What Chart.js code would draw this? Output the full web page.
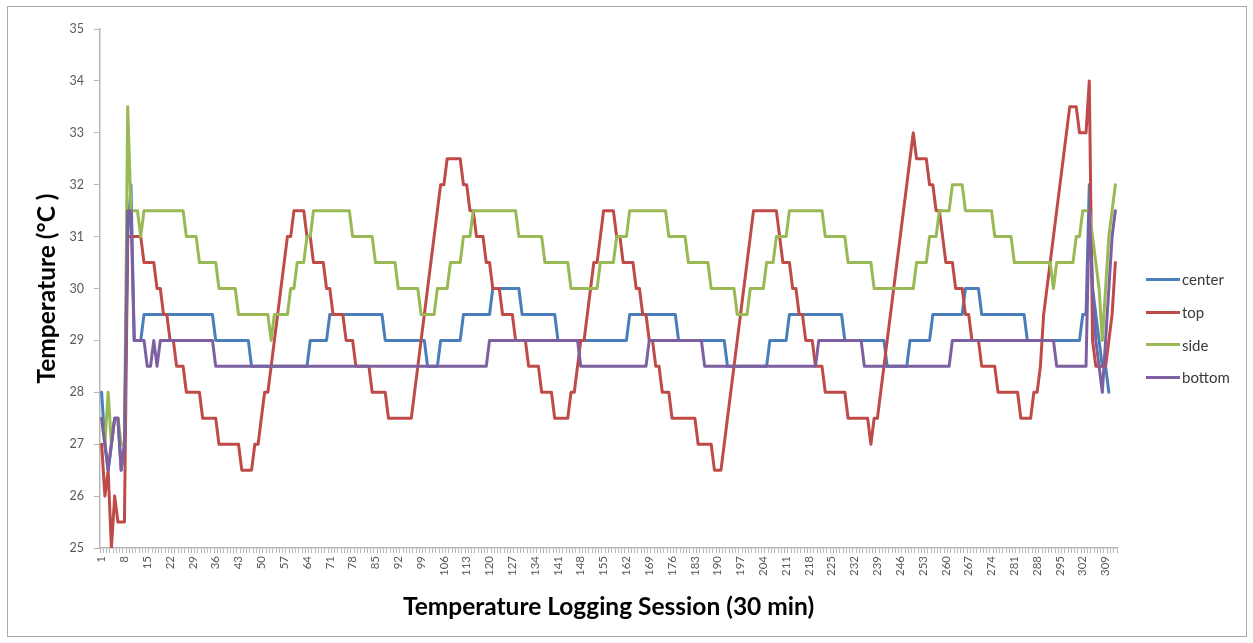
<!DOCTYPE html>
<html lang="en">
<head>
<meta charset="UTF-8">
<title>Temperature Logging Session</title>
<script src="https://cdn.jsdelivr.net/npm/chart.js"></script>
<style>
  html, body { margin: 0; padding: 0; background: #fff; }
  #wrap { position: relative; width: 1253px; height: 643px; }
  #frame {
    position: absolute; left: 7px; top: 6px; width: 1238px; height: 629px;
    border: 1px solid #a9a9a9; pointer-events: none;
  }
  #legend {
    position: absolute; left: 1146px; top: 263px;
    font-family: Lato, sans-serif; font-size: 15px; color: #3a3a3a;
  }
  .item { height: 32.7px; display: flex; align-items: center; }
  .swatch { width: 34px; height: 3px; margin-right: 2px; }
</style>
</head>
<body>
<div id="wrap">
  <canvas id="chart"></canvas>
  <div id="frame"></div>
  <div id="legend"></div>
</div>
<script>
// one reading every 30 min, sessions 1..312
const sessions = Array.from({ length: 312 }, (_, i) => String(i + 1));

const center = [
  28, 27, 26.5, 27, 27.5, 27.5, 26.5, 27, 31, 32,
  29, 29, 29, 29.5, 29.5, 29.5, 29.5, 29.5, 29.5, 29.5,
  29.5, 29.5, 29.5, 29.5, 29.5, 29.5, 29.5, 29.5, 29.5, 29.5,
  29.5, 29.5, 29.5, 29.5, 29.5, 29, 29, 29, 29, 29,
  29, 29, 29, 29, 29, 29, 28.5, 28.5, 28.5, 28.5,
  28.5, 28.5, 28.5, 28.5, 28.5, 28.5, 28.5, 28.5, 28.5, 28.5,
  28.5, 28.5, 28.5, 28.5, 29, 29, 29, 29, 29, 29,
  29.5, 29.5, 29.5, 29.5, 29.5, 29.5, 29.5, 29.5, 29.5, 29.5,
  29.5, 29.5, 29.5, 29.5, 29.5, 29.5, 29.5, 29, 29, 29,
  29, 29, 29, 29, 29, 29, 29, 29, 29, 29,
  28.5, 28.5, 28.5, 28.5, 29, 29, 29, 29, 29, 29,
  29, 29.5, 29.5, 29.5, 29.5, 29.5, 29.5, 29.5, 29.5, 29.5,
  30, 30, 30, 30, 30, 30, 30, 30, 30, 29.5,
  29.5, 29.5, 29.5, 29.5, 29.5, 29.5, 29.5, 29.5, 29.5, 29.5,
  29, 29, 29, 29, 29, 29, 29, 29, 29, 29,
  29, 29, 29, 29, 29, 29, 29, 29, 29, 29,
  29, 29, 29.5, 29.5, 29.5, 29.5, 29.5, 29.5, 29.5, 29.5,
  29.5, 29.5, 29.5, 29.5, 29.5, 29.5, 29.5, 29, 29, 29,
  29, 29, 29, 29, 29, 29, 29, 29, 29, 29,
  29, 29, 28.5, 28.5, 28.5, 28.5, 28.5, 28.5, 28.5, 28.5,
  28.5, 28.5, 28.5, 28.5, 28.5, 29, 29, 29, 29, 29,
  29, 29.5, 29.5, 29.5, 29.5, 29.5, 29.5, 29.5, 29.5, 29.5,
  29.5, 29.5, 29.5, 29.5, 29.5, 29.5, 29.5, 29.5, 29, 29,
  29, 29, 29, 29, 29, 29, 29, 29, 29, 29,
  29, 28.5, 28.5, 28.5, 28.5, 28.5, 28.5, 28.5, 29, 29,
  29, 29, 29, 29, 29, 29.5, 29.5, 29.5, 29.5, 29.5,
  29.5, 29.5, 29.5, 29.5, 29.5, 30, 30, 30, 30, 30,
  29.5, 29.5, 29.5, 29.5, 29.5, 29.5, 29.5, 29.5, 29.5, 29.5,
  29.5, 29.5, 29.5, 29.5, 29, 29, 29, 29, 29, 29,
  29, 29, 29, 29, 29, 29, 29, 29, 29, 29,
  29, 29.5, 29.5, 32, 30, 29.5, 29, 28.5, 28.5, 28
];

const top_ = [
  27, 26, 26.5, 25, 26, 25.5, 25.5, 25.5, 31, 31,
  31, 31, 31, 30.5, 30.5, 30.5, 30.5, 30, 30, 29.5,
  29.5, 29, 29, 28.5, 28.5, 28.5, 28, 28, 28, 28,
  28, 27.5, 27.5, 27.5, 27.5, 27.5, 27, 27, 27, 27,
  27, 27, 27, 26.5, 26.5, 26.5, 26.5, 27, 27, 27.5,
  28, 28, 28.5, 29, 29.5, 30, 30.5, 31, 31, 31.5,
  31.5, 31.5, 31.5, 31, 31, 30.5, 30.5, 30.5, 30.5, 30,
  30, 29.5, 29.5, 29.5, 29.5, 29, 29, 29, 28.5, 28.5,
  28.5, 28.5, 28.5, 28, 28, 28, 28, 28, 27.5, 27.5,
  27.5, 27.5, 27.5, 27.5, 27.5, 27.5, 28, 28.5, 29, 29.5,
  30, 30.5, 31, 31.5, 32, 32, 32.5, 32.5, 32.5, 32.5,
  32.5, 32, 32, 31.5, 31.5, 31, 31, 31, 30.5, 30.5,
  30, 30, 30, 29.5, 29.5, 29.5, 29.5, 29, 29, 29,
  29, 28.5, 28.5, 28.5, 28.5, 28, 28, 28, 28, 27.5,
  27.5, 27.5, 27.5, 27.5, 28, 28, 28.5, 29, 29, 29.5,
  30, 30.5, 30.5, 31, 31.5, 31.5, 31.5, 31.5, 31, 31,
  30.5, 30.5, 30.5, 30.5, 30, 30, 29.5, 29.5, 29, 29,
  28.5, 28.5, 28, 28, 28, 27.5, 27.5, 27.5, 27.5, 27.5,
  27.5, 27.5, 27.5, 27, 27, 27, 27, 27, 26.5, 26.5,
  26.5, 27, 27.5, 28, 28.5, 29, 29.5, 30, 30.5, 31,
  31.5, 31.5, 31.5, 31.5, 31.5, 31.5, 31.5, 31.5, 31, 30.5,
  30.5, 30.5, 30, 30, 29.5, 29.5, 29, 29, 29, 28.5,
  28.5, 28.5, 28, 28, 28, 28, 28, 28, 28, 27.5,
  27.5, 27.5, 27.5, 27.5, 27.5, 27.5, 27, 27.5, 27.5, 28,
  28.5, 29, 29.5, 30, 30.5, 31, 31.5, 32, 32.5, 33,
  32.5, 32.5, 32.5, 32.5, 32, 32, 31.5, 31.5, 31, 30.5,
  30.5, 30.5, 30, 30, 30, 29.5, 29.5, 29, 29, 29,
  28.5, 28.5, 28.5, 28.5, 28.5, 28, 28, 28, 28, 28,
  28, 28, 27.5, 27.5, 27.5, 27.5, 28, 28, 28.5, 29.5,
  30, 30.5, 31, 31.5, 32, 32.5, 33, 33.5, 33.5, 33.5,
  33, 33, 33, 34, 29, 28.5, 28.5, 28.5, 28.5, 29,
  29.5, 30.5
];

const side = [
  27.5, 27, 28, 27, 27.5, 27.5, 27, 27, 33.5, 31.5,
  31.5, 31.5, 31, 31.5, 31.5, 31.5, 31.5, 31.5, 31.5, 31.5,
  31.5, 31.5, 31.5, 31.5, 31.5, 31.5, 31, 31, 31, 31,
  30.5, 30.5, 30.5, 30.5, 30.5, 30.5, 30, 30, 30, 30,
  30, 30, 29.5, 29.5, 29.5, 29.5, 29.5, 29.5, 29.5, 29.5,
  29.5, 29.5, 29, 29.5, 29.5, 29.5, 29.5, 29.5, 30, 30,
  30.5, 30.5, 30.5, 31, 31, 31.5, 31.5, 31.5, 31.5, 31.5,
  31.5, 31.5, 31.5, 31.5, 31.5, 31.5, 31.5, 31, 31, 31,
  31, 31, 31, 31, 30.5, 30.5, 30.5, 30.5, 30.5, 30.5,
  30.5, 30, 30, 30, 30, 30, 30, 30, 29.5, 29.5,
  29.5, 29.5, 29.5, 30, 30, 30, 30, 30.5, 30.5, 30.5,
  30.5, 31, 31, 31, 31.5, 31.5, 31.5, 31.5, 31.5, 31.5,
  31.5, 31.5, 31.5, 31.5, 31.5, 31.5, 31.5, 31.5, 31, 31,
  31, 31, 31, 31, 31, 31, 30.5, 30.5, 30.5, 30.5,
  30.5, 30.5, 30.5, 30.5, 30, 30, 30, 30, 30, 30,
  30, 30, 30, 30.5, 30.5, 30.5, 30.5, 30.5, 31, 31,
  31, 31, 31.5, 31.5, 31.5, 31.5, 31.5, 31.5, 31.5, 31.5,
  31.5, 31.5, 31.5, 31.5, 31, 31, 31, 31, 31, 31,
  30.5, 30.5, 30.5, 30.5, 30.5, 30.5, 30.5, 30, 30, 30,
  30, 30, 30, 30, 30, 29.5, 29.5, 29.5, 29.5, 30,
  30, 30, 30, 30, 30.5, 30.5, 30.5, 31, 31, 31,
  31, 31.5, 31.5, 31.5, 31.5, 31.5, 31.5, 31.5, 31.5, 31.5,
  31.5, 31.5, 31, 31, 31, 31, 31, 31, 31, 30.5,
  30.5, 30.5, 30.5, 30.5, 30.5, 30.5, 30.5, 30, 30, 30,
  30, 30, 30, 30, 30, 30, 30, 30, 30, 30,
  30.5, 30.5, 30.5, 30.5, 31, 31, 31, 31.5, 31.5, 31.5,
  31.5, 32, 32, 32, 32, 31.5, 31.5, 31.5, 31.5, 31.5,
  31.5, 31.5, 31.5, 31.5, 31, 31, 31, 31, 31, 31,
  30.5, 30.5, 30.5, 30.5, 30.5, 30.5, 30.5, 30.5, 30.5, 30.5,
  30.5, 30.5, 30, 30.5, 30.5, 30.5, 30.5, 30.5, 30.5, 31,
  31, 31.5, 31.5, 31.5, 31, 30.5, 30, 29, 30, 31,
  31.5, 32
];

const bottom = [
  27.5, 27, 26.5, 27, 27.5, 27.5, 26.5, 27, 31.5, 31.5,
  29, 29, 29, 29, 28.5, 28.5, 29, 28.5, 29, 29,
  29, 29, 29, 29, 29, 29, 29, 29, 29, 29,
  29, 29, 29, 29, 29, 28.5, 28.5, 28.5, 28.5, 28.5,
  28.5, 28.5, 28.5, 28.5, 28.5, 28.5, 28.5, 28.5, 28.5, 28.5,
  28.5, 28.5, 28.5, 28.5, 28.5, 28.5, 28.5, 28.5, 28.5, 28.5,
  28.5, 28.5, 28.5, 28.5, 28.5, 28.5, 28.5, 28.5, 28.5, 28.5,
  28.5, 28.5, 28.5, 28.5, 28.5, 28.5, 28.5, 28.5, 28.5, 28.5,
  28.5, 28.5, 28.5, 28.5, 28.5, 28.5, 28.5, 28.5, 28.5, 28.5,
  28.5, 28.5, 28.5, 28.5, 28.5, 28.5, 28.5, 28.5, 28.5, 28.5,
  28.5, 28.5, 28.5, 28.5, 28.5, 28.5, 28.5, 28.5, 28.5, 28.5,
  28.5, 28.5, 28.5, 28.5, 28.5, 28.5, 28.5, 28.5, 28.5, 29,
  29, 29, 29, 29, 29, 29, 29, 29, 29, 29,
  29, 29, 29, 29, 29, 29, 29, 29, 29, 29,
  29, 29, 29, 29, 29, 29, 29, 28.5, 28.5, 28.5,
  28.5, 28.5, 28.5, 28.5, 28.5, 28.5, 28.5, 28.5, 28.5, 28.5,
  28.5, 28.5, 28.5, 28.5, 28.5, 28.5, 28.5, 28.5, 29, 29,
  29, 29, 29, 29, 29, 29, 29, 29, 29, 29,
  29, 29, 29, 29, 29, 28.5, 28.5, 28.5, 28.5, 28.5,
  28.5, 28.5, 28.5, 28.5, 28.5, 28.5, 28.5, 28.5, 28.5, 28.5,
  28.5, 28.5, 28.5, 28.5, 28.5, 28.5, 28.5, 28.5, 28.5, 28.5,
  28.5, 28.5, 28.5, 28.5, 28.5, 28.5, 28.5, 28.5, 28.5, 28.5,
  29, 29, 29, 29, 29, 29, 29, 29, 29, 29,
  29, 29, 29, 29, 28.5, 28.5, 28.5, 28.5, 28.5, 28.5,
  28.5, 28.5, 28.5, 28.5, 28.5, 28.5, 28.5, 28.5, 28.5, 28.5,
  28.5, 28.5, 28.5, 28.5, 28.5, 28.5, 28.5, 28.5, 28.5, 28.5,
  28.5, 29, 29, 29, 29, 29, 29, 29, 29, 29,
  29, 29, 29, 29, 29, 29, 29, 29, 29, 29,
  29, 29, 29, 29, 29, 29, 29, 29, 29, 29,
  29, 29, 29, 28.5, 28.5, 28.5, 28.5, 28.5, 28.5, 28.5,
  28.5, 28.5, 28.5, 31.5, 30, 29, 28.5, 28, 29, 30,
  31, 31.5
];

const seriesNames = ['center', 'top', 'side', 'bottom'];
const seriesColors = ['#4a7ebb', '#be4b48', '#98b954', '#7d60a0'];
const seriesData = [center, top_, side, bottom];

const yTicks = [25, 26, 27, 28, 29, 30, 31, 32, 33, 34, 35];

const FONT = 'Lato, "Open Sans", sans-serif';
const AXIS = '#b5b5b5';

Chart.defaults.font.family = FONT;

const datasets = seriesNames.map((name, i) => ({
  label: name,
  data: seriesData[i],
  borderColor: seriesColors[i],
  backgroundColor: seriesColors[i],
  borderWidth: 3,
  pointRadius: 0,
  tension: 0,
  fill: false,
  borderJoinStyle: 'round',
  borderCapStyle: 'round',
  // later series paint over earlier ones
  order: seriesNames.length - i
}));

new Chart(document.getElementById('chart'), {
  type: 'line',
  data: { labels: sessions, datasets },
  options: {
    responsive: true,
    maintainAspectRatio: false,
    animation: false,
    layout: { padding: { left: 0, right: 136, top: 29, bottom: 0 } },
    plugins: { legend: { display: false }, tooltip: { enabled: false } },
    scales: {
      x: {
        type: 'category',
        offset: true,
        grid: {
          display: true, drawOnChartArea: false, drawTicks: true,
          tickLength: 5, color: AXIS, offset: true
        },
        border: { display: true, color: AXIS, width: 1.5 },
        ticks: {
          autoSkip: false, minRotation: 90, maxRotation: 90, padding: 3,
          color: '#595959', font: { size: 11.5 },
          callback: (v, i) => (i % 7 === 0 ? sessions[i] : '')
        },
        title: {
          display: true,
          text: 'Temperature Logging Session (30 min)',
          color: '#000',
          font: { size: 24.5, weight: 'bold' },
          padding: { top: 0, bottom: 21 }
        },
        afterFit: s => { s.height = 95; s.paddingLeft = 0; s.paddingRight = 0; }
      },
      y: {
        min: 25,
        max: 35,
        afterBuildTicks: s => { s.ticks = yTicks.map(v => ({ value: v })); },
        grid: {
          display: true, drawOnChartArea: false, drawTicks: true,
          tickLength: 6, color: AXIS
        },
        border: { display: true, color: AXIS, width: 1.5 },
        ticks: { color: '#595959', font: { size: 12.5 }, padding: 10 },
        title: {
          display: true,
          text: 'Temperature (°C )',
          color: '#000',
          font: { size: 24.5, weight: 'bold' },
          padding: { top: 32, bottom: 0 }
        },
        afterFit: s => { s.width = 100; s.paddingTop = 0; s.paddingBottom = 0; }
      }
    }
  }
});

// legend column to the right of the plot
const legend = document.getElementById('legend');
seriesNames.forEach((name, i) => {
  const item = document.createElement('div');
  item.className = 'item';
  const sw = document.createElement('span');
  sw.className = 'swatch';
  sw.style.background = seriesColors[i];
  const label = document.createElement('span');
  label.textContent = name;
  item.appendChild(sw);
  item.appendChild(label);
  legend.appendChild(item);
});
</script>
</body>
</html>
